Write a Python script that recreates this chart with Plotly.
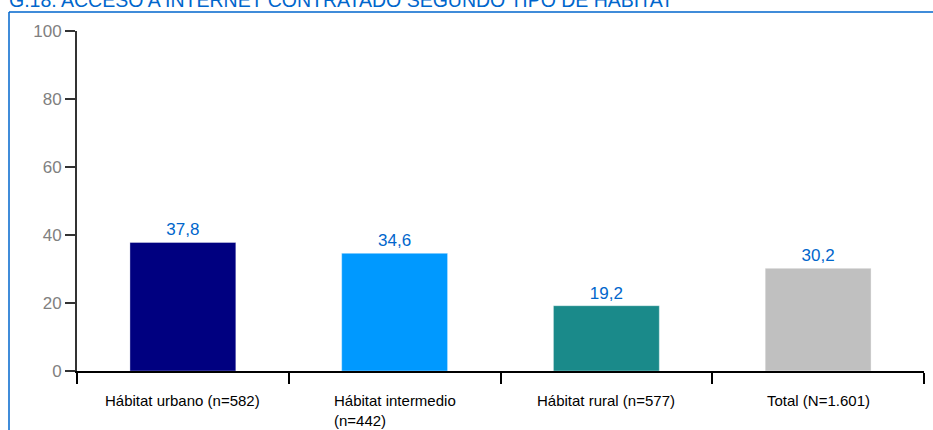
import plotly.graph_objects as go

categories = ["Hábitat urbano (n=582)", "Hábitat intermedio<br>(n=442)", "Hábitat rural (n=577)", "Total (N=1.601)"]
values = [37.8, 34.6, 19.2, 30.2]
value_labels = ["37,8", "34,6", "19,2", "30,2"]
bar_colors = ["#000080", "#0099FF", "#1A8A8A", "#C0C0C0"]
title_text = "G.18. ACCESO A INTERNET CONTRATADO SEGUNDO TIPO DE HÁBITAT"

W, H = 933, 430
ml, mr, mt, mb = 77, 9, 31, 59
pw, ph = W - ml - mr, H - mt - mb

def px_x(p):
    return (p - ml) / pw

def px_y(p):
    return (H - mb - p) / ph

fig = go.Figure()
fig.add_trace(go.Bar(
    x=categories, y=values,
    marker=dict(color=bar_colors, line=dict(color="rgba(255,255,255,0.35)", width=1)),
    text=value_labels, textposition="outside", cliponaxis=False,
    textfont=dict(family="Liberation Sans, Arial", size=17, color="#0066CC"),
    width=0.5,
))

for c in categories:
    fig.add_annotation(
        x=c, xref="x", y=0, yref="paper", yanchor="top", xanchor="center",
        text=c, align="left", showarrow=False, yshift=-19,
        font=dict(family="Liberation Sans, Arial", size=15, color="#000000"),
    )

# blue frame lines
fig.add_shape(type="line", xref="paper", yref="paper",
              x0=px_x(9), x1=px_x(940), y0=px_y(12), y1=px_y(12),
              line=dict(color="#0066CC", width=1.5))
fig.add_shape(type="line", xref="paper", yref="paper",
              x0=px_x(9), x1=px_x(9), y0=px_y(12), y1=px_y(440),
              line=dict(color="#0066CC", width=1.5))

fig.update_layout(
    width=W, height=H,
    margin=dict(l=ml, r=mr, t=mt, b=mb),
    paper_bgcolor="white", plot_bgcolor="white",
    showlegend=False,
    title=dict(text=title_text, xref="container", yref="container",
               x=9 / W, xanchor="left", y=1 - 0.6 / H, yanchor="middle",
               font=dict(family="Liberation Sans, Arial", size=19.5, color="#0066CC"),
               pad=dict(l=0, t=0, b=0, r=0)),
    font=dict(family="Liberation Sans, Arial"),
)
fig.update_xaxes(
    type="category", showticklabels=False, ticks="outside", tickson="boundaries",
    ticklen=11, tickcolor="#000000", tickwidth=1.5,
    showline=True, linecolor="#000000", linewidth=2, showgrid=False,
)
fig.update_yaxes(
    range=[0, 100], dtick=20, ticks="outside", ticklen=10, tickcolor="#333333", tickwidth=1.5,
    showline=True, linecolor="#333333", linewidth=2, showgrid=False, zeroline=False,
    tickfont=dict(family="Liberation Sans, Arial", size=17, color="#808080"),
)

fig.write_html("out.html", config={"displayModeBar": False},
               post_script="document.body.style.margin='0';document.body.style.overflow='hidden';")
